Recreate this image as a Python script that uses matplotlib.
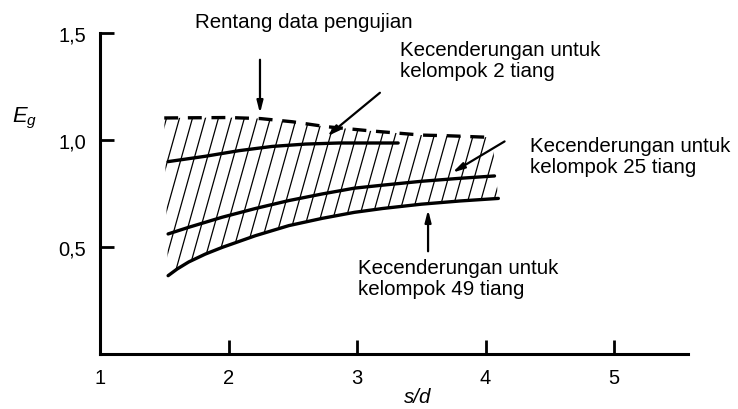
import matplotlib
matplotlib.use("Agg")
import matplotlib.pyplot as plt
import numpy as np
from matplotlib.patches import Polygon

plt.rcParams['font.family'] = ['Liberation Sans', 'DejaVu Sans']
plt.rcParams['mathtext.fontset'] = 'custom'
plt.rcParams['mathtext.it'] = 'Liberation Sans:italic'
plt.rcParams['mathtext.rm'] = 'Liberation Sans'
plt.rcParams['lines.scale_dashes'] = False

# batas atas rentang data pengujian (garis putus-putus)
sd_upper = [1.5, 2.0, 2.25, 2.5, 2.75, 3.08, 3.5, 3.7, 4.05]
eg_upper = [1.103, 1.105, 1.10, 1.085, 1.063, 1.044, 1.023, 1.02, 1.012]

# kecenderungan kelompok 2 tiang
sd_2 = [1.53, 1.82, 2.08, 2.34, 2.6, 2.86, 3.32]
eg_2 = [0.899, 0.924, 0.950, 0.970, 0.981, 0.986, 0.986]

# kecenderungan kelompok 25 tiang
sd_25 = [1.53, 1.69, 1.95, 2.21, 2.47, 2.73, 2.98, 3.2, 3.5, 3.8, 4.07]
eg_25 = [0.561, 0.592, 0.639, 0.680, 0.717, 0.748, 0.775, 0.789, 0.807, 0.821, 0.832]

# kecenderungan kelompok 49 tiang
sd_49 = [1.53, 1.6, 1.69, 1.82, 1.95, 2.21, 2.47, 2.73, 2.98, 3.2, 3.5, 3.8, 4.1]
eg_49 = [0.366, 0.397, 0.430, 0.467, 0.498, 0.553, 0.600, 0.634, 0.662, 0.680, 0.700, 0.715, 0.727]

xticks = [1, 2, 3, 4, 5]
yticks = [0.5, 1.0, 1.5]
ytick_labels = ['0,5', '1,0', '1,5']

fig = plt.figure(figsize=(7.38, 4.10), dpi=100)
ax = fig.add_axes([100/738, 55/410, 588/738, 321/410])
ax.set_xlim(1, 1 + 588/128.5)
ax.set_ylim(0, 1.5)

# daerah arsir antara batas atas dan kurva 49 tiang
poly = np.vstack([np.column_stack([sd_upper, eg_upper]),
                  np.column_stack([sd_49[::-1], eg_49[::-1]])])
clip = Polygon(poly, closed=True, facecolor='none', edgecolor='none')
ax.add_patch(clip)
k = 0.466
for c in np.arange(0.6, 4.2, 0.101):
    ln, = ax.plot([c, c + k*1.5], [0, 1.5], color='black', lw=0.9)
    ln.set_clip_path(clip)

ax.plot(sd_upper, eg_upper, color='black', lw=2.4, linestyle=(0, (10, 7)))
for sx, ey in [(sd_2, eg_2), (sd_25, eg_25), (sd_49, eg_49)]:
    ax.plot(sx, ey, color='black', lw=2.4, solid_capstyle='round',
            solid_joinstyle='round')

fs = 14.8
arr = dict(arrowstyle='-|>,head_length=0.7,head_width=0.18', color='black', lw=1.6)
ax.annotate('', xy=(2.245, 1.112), xytext=(2.245, 1.388), arrowprops=arr)
ax.annotate('', xy=(2.751, 1.009), xytext=(3.195, 1.229), arrowprops=arr)
ax.annotate('', xy=(3.724, 0.841), xytext=(4.167, 1.0), arrowprops=arr)
ax.annotate('', xy=(3.553, 0.687), xytext=(3.553, 0.467), arrowprops=arr)

ax.text(2.588, 1.556, 'Rentang data pengujian', fontsize=fs, ha='center', va='center')
ax.text(3.335, 1.374, 'Kecenderungan untuk\nkelompok 2 tiang', fontsize=fs,
        ha='left', va='center', linespacing=1.1)
ax.text(4.346, 0.925, 'Kecenderungan untuk\nkelompok 25 tiang', fontsize=fs,
        ha='left', va='center', linespacing=1.1)
ax.text(3.008, 0.355, 'Kecenderungan untuk\nkelompok 49 tiang', fontsize=fs,
        ha='left', va='center', linespacing=1.1)

ax.spines['top'].set_visible(False)
ax.spines['right'].set_visible(False)
ax.spines['left'].set_linewidth(2.2)
ax.spines['bottom'].set_linewidth(2.2)
ax.set_xticks(xticks)
ax.set_yticks(yticks)
ax.set_yticklabels(ytick_labels)
ax.tick_params(direction='in', length=10, width=2, labelsize=14.5, pad=10)

fig.text(25/738, 1 - 118/410, r'$E_g$', fontsize=fs+1, ha='center', va='center')
fig.text(418/738, 1 - 398/410, 's/d', fontsize=fs, style='italic', ha='center', va='center')

fig.savefig('out.png', dpi=100)
